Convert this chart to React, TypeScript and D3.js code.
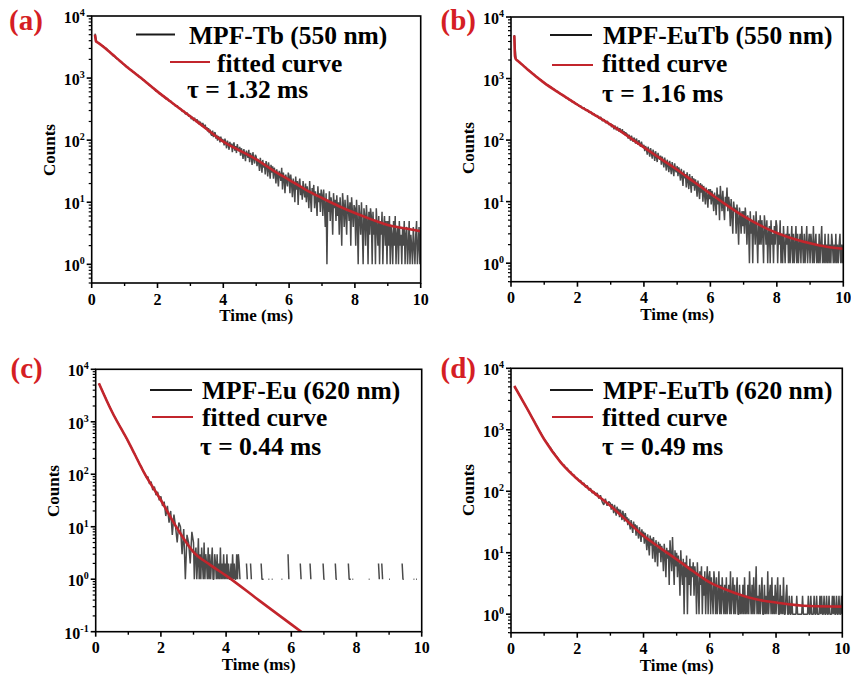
import React from 'react';
import * as d3 from 'd3';

const W = 851;
const H = 677;
const FONT = "'Liberation Serif', 'Times New Roman', Times, serif";
const FIT_RED = '#c2252c';
const LABEL_RED = '#d51e24';
const DATA_COLOR = '#4a4a4a';

// sampling grids of the measured decays (ms): coarse head, fine tail
const HEAD_T0 = 0.1;
const HEAD_DT = 0.05;
const TAIL_T0 = 3.0;
const TAIL_DT = 0.025;

const xMajor = [0, 2, 4, 6, 8, 10];
const xMinor = [1, 3, 5, 7, 9];

// ---------- (a) MPF-Tb 550 nm ----------
const headA = [
  5200, 3880, 3660, 3580, 3370, 3280, 3060, 2990, 2780, 2620,
  2460, 2280, 2230, 2060, 2010, 1860, 1820, 1690, 1650, 1520,
  1490, 1380, 1360, 1250, 1230, 1140, 1120, 1030, 1020, 935,
  925, 845, 830, 765, 750, 690, 680, 620, 615, 560,
  565, 515, 510, 465, 470, 425, 430, 390, 385, 352,
  360, 322, 325, 290, 298, 262, 275, 242,
];
const tailA = [
  250, 218, 236, 226, 204, 230, 212, 196, 218, 188, 206, 176, 198, 184, 168, 190, 172, 160, 178, 150,
  162, 138, 156, 130, 148, 124, 118, 142, 112, 128, 134, 106, 122, 98, 116, 110, 92, 114, 96, 104,
  100, 82, 106, 90, 74, 98, 86, 70, 94, 78, 88, 64, 84, 92, 68, 80, 62, 86, 72, 66,
  78, 56, 74, 64, 50, 72, 58, 46, 68, 60, 52, 70, 44, 62, 56, 40, 64, 50, 42, 58,
  54, 38, 50, 44, 32, 52, 40, 30, 48, 36, 42, 28, 46, 38, 26, 44, 34, 24, 40, 30,
  38, 24, 36, 30, 20, 34, 26, 18, 32, 28, 22, 36, 16, 30, 24, 14, 28, 22, 18, 30,
  26, 14, 28, 20, 12, 24, 18, 10, 26, 16, 22, 9, 20, 24, 13, 18, 11, 22, 15, 12,
  20, 10, 18, 14, 8, 22, 12, 7, 17, 13, 19, 8, 15, 11, 6, 18, 10, 14, 7, 16,
  13, 6, 16, 9, 4, 14, 1, 11, 7, 15, 5, 12, 9, 3, 14, 8, 11, 5, 13, 6,
  10, 3, 12, 7, 2, 14, 9, 4, 11, 6, 3, 13, 8, 5, 10, 2, 12, 7, 4, 9,
  8, 2, 11, 5, 1, 9, 6, 3, 10, 4, 1, 8, 6, 2, 9, 5, 1, 7, 3, 8,
  6, 1, 7, 3, 5, 1, 8, 4, 2, 6, 1, 5, 3, 7, 1, 4, 6, 2, 5, 1,
  5, 2, 6, 1, 4, 3, 1, 5, 2, 6, 1, 3, 4, 1, 5, 2, 3, 1, 4, 2,
  5, 1, 3, 4, 1, 2, 5, 1, 3, 2, 1, 4, 2, 1, 3, 5, 1, 2, 4, 1,
  3,
];
const fitAT = [0.1, 0.13, 0.2, 0.5, 1, 1.5, 2, 2.5, 3, 3.5, 4, 4.5, 5, 5.5, 6, 6.5, 7, 7.5, 8, 8.5, 9, 9.5, 10];
const fitAV = [5000, 3900, 3700, 2750, 1630, 1000, 605, 380, 240, 150, 95, 68, 49, 33, 23, 16, 11.7, 8.7, 6.7, 5.3, 4.3, 3.8, 3.4];

// ---------- (b) MPF-EuTb 550 nm ----------
const headB = [
  5100, 2070, 1930, 1870, 1730, 1680, 1560, 1520, 1390, 1350,
  1290, 1190, 1165, 1075, 1055, 970, 955, 880, 865, 800,
  795, 740, 732, 680, 672, 625, 620, 575, 568, 528,
  528, 485, 488, 448, 450, 412, 416, 382, 385, 352,
  360, 326, 336, 300, 312, 280, 290, 258, 270, 242,
  252, 222, 236, 204, 218, 190, 204, 176,
];
const tailB = [
  186, 162, 178, 170, 150, 172, 158, 144, 164, 150, 138, 156, 142, 132, 150, 126, 140, 120, 134, 124,
  126, 106, 122, 112, 98, 118, 104, 94, 110, 100, 88, 106, 92, 84, 100, 86, 78, 94, 82, 76,
  84, 66, 80, 72, 58, 78, 66, 54, 74, 62, 50, 70, 60, 46, 66, 54, 44, 62, 52, 48,
  56, 40, 54, 46, 36, 52, 42, 32, 48, 40, 30, 46, 36, 28, 44, 34, 26, 42, 32, 30,
  38, 26, 36, 30, 22, 34, 26, 18, 32, 24, 28, 17, 30, 22, 16, 28, 20, 14, 26, 18,
  24, 15, 23, 18, 12, 22, 16, 11, 20, 14, 19, 10, 18, 13, 9, 17, 12, 8, 16, 11,
  16, 9, 15, 11, 7, 14, 10, 6, 17, 9, 13, 5, 18, 11, 7, 15, 8, 5, 12, 9,
  17, 7, 12, 9, 4, 11, 6, 3, 10, 7, 8, 3, 9, 5, 2, 8, 6, 3, 7, 4,
  7, 3, 8, 5, 2, 6, 4, 1, 7, 3, 5, 1, 6, 4, 2, 7, 3, 1, 5, 2,
  6, 2, 5, 3, 1, 6, 4, 2, 5, 1, 3, 4, 1, 5, 2, 3, 1, 4, 2, 5,
  4, 1, 3, 2, 5, 1, 3, 1, 4, 2, 1, 3, 2, 4, 1, 3, 1, 2, 4, 1,
  3, 1, 2, 4, 1, 3, 1, 2, 3, 1, 4, 2, 1, 3, 1, 2, 4, 1, 2, 3,
  1, 3, 2, 1, 4, 1, 2, 3, 1, 2, 1, 3, 1, 2, 4, 1, 2, 1, 3, 1,
  2, 1, 3, 1, 2, 1, 3, 2, 1, 2, 1, 3, 1, 2, 1, 2, 3, 1, 2, 1,
  2,
];
const fitBT = [0.1, 0.12, 0.15, 0.2, 0.5, 1, 1.5, 2, 2.5, 3, 3.5, 4, 4.5, 5, 5.5, 6, 6.5, 7, 7.5, 8, 8.5, 9, 9.5, 10];
const fitBV = [5000, 2300, 2050, 1950, 1400, 850, 560, 375, 260, 178, 117, 76, 50, 33, 21, 13.5, 8.7, 5.8, 4.1, 3.1, 2.5, 2.1, 1.85, 1.72];

// ---------- (c) MPF-Eu 620 nm ----------
const headC = [
  5400, 4560, 3960, 3370, 2890, 2440, 2120, 1800, 1560, 1340,
  1200, 1040, 925, 795, 712, 610, 548, 470, 422, 358,
  320, 270, 243, 204, 183, 152, 140, 114, 106, 88,
  90, 66, 72, 50, 58, 40, 46, 32, 38, 25,
  30, 16, 25, 12, 20, 7, 17, 10, 5, 12,
  10, 3, 9, 1, 7, 5, 2, 8,
];
const tailC = [
  5, 1, 3, 4, 1, 2, 6, 1, 3, 1, 4, 2, 1, 5, 1, 3, 2, 1, 4, 1,
  3, 1, 2, 4, 1, 1, 3, 2, 1, 3, 1, 2, 1, 4, 1, 2, 1, 3, 1, 2,
  1, 3, 1, 2, 1, 1, 2, 1, 3, 1, 2, 1, 1, 3, 1, 3, 2, 1, 0, 1,
  0, 0, 0, 0, 0, 2, 1, 0, 0, 0, 2, 1, 0, 0, 0, 0, 0, 0, 0, 0,
  0, 0, 0, 2, 1, 1, 1, 0, 0, 0, 0, 0, 1, 1, 0, 0, 1, 1, 0, 0,
  0, 0, 0, 0, 0, 0, 0, 0, 1, 1, 0, 0, 0, 0, 0, 0, 3, 1, 0, 0,
  0, 0, 0, 0, 0, 0, 0, 0, 0, 0, 0, 2, 1, 0, 0, 0, 0, 0, 0, 0,
  0, 0, 0, 2, 1, 0, 0, 0, 0, 0, 0, 0, 0, 0, 0, 0, 0, 0, 0, 2,
  1, 1, 0, 0, 0, 0, 0, 0, 0, 0, 0, 0, 0, 0, 2, 1, 1, 0, 0, 0,
  0, 0, 0, 0, 0, 0, 0, 0, 0, 0, 2, 1, 1, 1, 0, 1, 1, 0, 0, 0,
  0, 0, 0, 0, 0, 0, 0, 0, 0, 0, 0, 0, 0, 0, 0, 1, 1, 0, 0, 0,
  0, 0, 0, 0, 0, 0, 0, 2, 1, 0, 0, 2, 1, 0, 0, 0, 0, 0, 0, 0,
  1, 1, 0, 0, 0, 0, 0, 0, 0, 0, 0, 0, 0, 0, 0, 0, 2, 1, 1, 0,
  0, 0, 0, 0, 0, 0, 0, 0, 0, 0, 1, 1, 0, 1, 1, 0, 0, 0, 0, 0,
  0,
];
const fitCT = [0.1, 0.5, 1, 1.5, 2, 2.5, 3, 3.5, 4, 5, 6, 6.5];
const fitCV = [5400, 1550, 420, 103, 32, 9.3, 3.3, 1.9, 1.17, 0.4, 0.138, 0.081];

// ---------- (d) MPF-EuTb 620 nm ----------
const headD = [
  5150, 4590, 4130, 3690, 3320, 2960, 2670, 2380, 2150, 1900,
  1720, 1530, 1385, 1220, 1110, 980, 890, 785, 712, 645,
  600, 540, 505, 452, 424, 380, 357, 318, 300, 272,
  268, 240, 236, 210, 208, 185, 184, 164, 163, 146,
  150, 130, 136, 116, 124, 104, 112, 94, 100, 86,
  94, 76, 86, 68, 60, 76, 58, 68,
];
const tailD = [
  64, 50, 62, 54, 44, 60, 48, 40, 56, 46, 52, 38, 50, 42, 34, 48, 40, 32, 44, 36,
  38, 28, 36, 30, 24, 34, 26, 21, 32, 25, 29, 19, 28, 22, 17, 26, 20, 15, 24, 18,
  22, 14, 21, 16, 11, 20, 14, 9, 19, 13, 17, 8, 18, 12, 7, 16, 11, 6, 15, 10,
  14, 7, 13, 10, 5, 14, 9, 4, 12, 8, 11, 3, 16, 9, 5, 18, 7, 3, 11, 6,
  10, 4, 9, 6, 2, 11, 5, 3, 8, 1, 7, 4, 9, 1, 6, 3, 8, 2, 6, 4,
  7, 2, 6, 4, 1, 7, 3, 1, 5, 3, 6, 1, 4, 2, 5, 1, 3, 6, 1, 4,
  5, 1, 4, 2, 1, 5, 3, 1, 4, 1, 2, 5, 1, 3, 1, 4, 2, 1, 3, 1,
  4, 1, 2, 3, 1, 5, 1, 2, 4, 1, 3, 1, 2, 4, 1, 1, 3, 1, 2, 1,
  3, 1, 4, 1, 2, 1, 3, 1, 5, 2, 1, 3, 1, 4, 1, 2, 6, 1, 2, 1,
  3, 1, 2, 4, 1, 1, 3, 1, 2, 1, 5, 1, 2, 3, 1, 4, 1, 2, 1, 3,
  1, 2, 4, 1, 1, 3, 1, 2, 1, 4, 1, 1, 2, 3, 1, 1, 2, 1, 1, 2,
  1, 1, 1, 1, 1, 2, 1, 1, 1, 1, 1, 1, 2, 1, 1, 1, 1, 1, 1, 2,
  1, 1, 2, 1, 1, 1, 2, 1, 1, 2, 1, 1, 1, 2, 1, 2, 1, 1, 2, 1,
  1, 2, 1, 1, 2, 1, 1, 1, 2, 1, 2, 1, 1, 2, 1, 1, 2, 1, 1, 2,
  1,
];
const fitDT = [0.1, 0.5, 1, 1.5, 2, 2.5, 3, 3.5, 4, 4.5, 5, 5.5, 6, 6.5, 7, 7.5, 8, 9, 10];
const fitDV = [5150, 2150, 700, 295, 158, 95, 58, 33, 18.8, 12, 7.8, 5, 3.3, 2.5, 2.0, 1.7, 1.55, 1.36, 1.33];

const panelLabels = ['(a)', '(b)', '(c)', '(d)'];
const seriesNames = ['MPF-Tb (550 nm)', 'MPF-EuTb (550 nm)', 'MPF-Eu (620 nm)', 'MPF-EuTb (620 nm)'];
const tauTexts = ['τ = 1.32 ms', 'τ = 1.16 ms', 'τ = 0.44 ms', 'τ = 0.49 ms'];

type Box = { l: number; r: number; t: number; b: number };
type Leg = { l1: number[]; t1: number[]; l2: number[]; t2: number[]; t3: number[] };

const panels = [
  {
    key: 'a', head: headA, tail: tailA, fitT: fitAT, fitV: fitAV, yDomain: [0.5, 1e4],
    box: { l: 91.7, r: 420.7, t: 16, b: 283 }, labelPos: [9, 29.5], countsY: 150,
    leg: { l1: [136, 175, 34.5], t1: [189, 44], l2: [170, 210, 62], t2: [217, 71.5], t3: [187, 98] },
  },
  {
    key: 'b', head: headB, tail: tailB, fitT: fitBT, fitV: fitBV, yDomain: [0.5, 1e4],
    box: { l: 511, r: 843.3, t: 17, b: 281.7 }, labelPos: [440.5, 29.5], countsY: 148,
    leg: { l1: [550, 592, 35], t1: [603, 43.5], l2: [552, 593, 65], t2: [602, 72], t3: [602, 102] },
  },
  {
    key: 'c', head: headC, tail: tailC, fitT: fitCT, fitV: fitCV, yDomain: [0.1, 1e4],
    box: { l: 95.7, r: 421.7, t: 369.3, b: 631.7 }, labelPos: [10.5, 378], countsY: 491,
    leg: { l1: [150, 192, 390], t1: [202, 398.5], l2: [152, 193, 417], t2: [202, 425.5], t3: [200, 455] },
  },
  {
    key: 'd', head: headD, tail: tailD, fitT: fitDT, fitV: fitDV, yDomain: [0.5, 1e4],
    box: { l: 511, r: 842.3, t: 368.3, b: 632.7 }, labelPos: [440.5, 378], countsY: 490,
    leg: { l1: [550, 593, 390], t1: [603, 398.5], l2: [552, 593, 417], t2: [602, 425.5], t3: [602, 455] },
  },
];

type Pt = { t: number; v: number };

function Panel({ p, idx }: { p: any; idx: number }) {
  const box: Box = p.box;
  const leg: Leg = p.leg;
  const x = d3.scaleLinear().domain([0, 10]).range([box.l, box.r]);
  const y = d3.scaleLog().domain(p.yDomain).range([box.b, box.t]);

  const pts: Pt[] = [
    ...p.head.map((v: number, i: number) => ({ t: HEAD_T0 + i * HEAD_DT, v })),
    ...p.tail.map((v: number, i: number) => ({ t: TAIL_T0 + i * TAIL_DT, v })),
  ];
  const dataLine = d3
    .line<Pt>()
    .defined((d) => d.v > 0)
    .x((d) => x(d.t))
    .y((d) => y(d.v));
  const fitPts: Pt[] = p.fitT.map((t: number, i: number) => ({ t, v: p.fitV[i] }));
  const fitLine = d3
    .line<Pt>()
    .x((d) => x(d.t))
    .y((d) => y(d.v))
    .curve(d3.curveMonotoneX);

  const [lo, hi] = p.yDomain as number[];
  const majors: number[] = [];
  const minors: number[] = [];
  for (let e = Math.floor(Math.log10(lo)) - 1; e <= Math.ceil(Math.log10(hi)); e++) {
    for (let k = 1; k <= 9; k++) {
      const v = k * Math.pow(10, e);
      if (v < lo * 0.999 || v > hi * 1.001) continue;
      (k === 1 ? majors : minors).push(v);
    }
  }
  const clipId = `clip-${p.key}`;
  const midX = (box.l + box.r) / 2;

  return (
    <g>
      <defs>
        <clipPath id={clipId}>
          <rect x={box.l} y={box.t} width={box.r - box.l} height={box.b - box.t} />
        </clipPath>
      </defs>
      <g clipPath={`url(#${clipId})`}>
        <path d={dataLine(pts) || ''} fill="none" stroke={DATA_COLOR} strokeWidth={1.5} strokeLinejoin="bevel" />
        <path d={fitLine(fitPts) || ''} fill="none" stroke={FIT_RED} strokeWidth={2.6} />
      </g>
      {/* frame */}
      <rect x={box.l} y={box.t} width={box.r - box.l} height={box.b - box.t} fill="none" stroke="#000" strokeWidth={1.6} />
      {/* x ticks */}
      {xMajor.map((t) => (
        <g key={`xm${t}`}>
          <line x1={x(t)} x2={x(t)} y1={box.b} y2={box.b + 5} stroke="#000" strokeWidth={1.6} />
          <text x={x(t)} y={box.b + 21.5} textAnchor="middle" fontSize={16} fontWeight="bold" fontFamily={FONT}>
            {t}
          </text>
        </g>
      ))}
      {xMinor.map((t) => (
        <line key={`xn${t}`} x1={x(t)} x2={x(t)} y1={box.b} y2={box.b + 3} stroke="#000" strokeWidth={1.4} />
      ))}
      {/* y ticks */}
      {majors.map((v) => {
        const ex = Math.round(Math.log10(v));
        return (
          <g key={`ym${v}`}>
            <line x1={box.l - 5} x2={box.l} y1={y(v)} y2={y(v)} stroke="#000" strokeWidth={1.6} />
            <text x={box.l - 7} y={y(v) + 7} textAnchor="end" fontSize={16} fontWeight="bold" fontFamily={FONT}>
              <tspan>10</tspan>
              <tspan dy={-7} fontSize={10}>{ex}</tspan>
            </text>
          </g>
        );
      })}
      {minors.map((v) => (
        <line key={`yn${v}`} x1={box.l - 3} x2={box.l} y1={y(v)} y2={y(v)} stroke="#000" strokeWidth={1.2} />
      ))}
      {/* axis titles */}
      <text x={midX} y={box.b + 38} textAnchor="middle" fontSize={17} fontWeight="bold" fontFamily={FONT}>
        Time (ms)
      </text>
      <text
        transform={`translate(${box.l - 37},${p.countsY}) rotate(-90)`}
        textAnchor="middle"
        fontSize={17}
        fontWeight="bold"
        fontFamily={FONT}
      >
        Counts
      </text>
      {/* panel label */}
      <text x={p.labelPos[0]} y={p.labelPos[1]} fontSize={29} fontWeight="bold" fontFamily={FONT} fill={LABEL_RED}>
        {panelLabels[idx]}
      </text>
      {/* legend */}
      <line x1={leg.l1[0]} x2={leg.l1[1]} y1={leg.l1[2]} y2={leg.l1[2]} stroke="#1a1a1a" strokeWidth={2} />
      <text x={leg.t1[0]} y={leg.t1[1]} fontSize={25.5} fontWeight="bold" fontFamily={FONT}>
        {seriesNames[idx]}
      </text>
      <line x1={leg.l2[0]} x2={leg.l2[1]} y1={leg.l2[2]} y2={leg.l2[2]} stroke={FIT_RED} strokeWidth={2} />
      <text x={leg.t2[0]} y={leg.t2[1]} fontSize={25.5} fontWeight="bold" fontFamily={FONT}>
        fitted curve
      </text>
      <text x={leg.t3[0]} y={leg.t3[1]} fontSize={25.5} fontWeight="bold" fontFamily={FONT}>
        {tauTexts[idx]}
      </text>
    </g>
  );
}

export default function App() {
  return (
    <svg
      width={W}
      height={H}
      viewBox={`0 0 ${W} ${H}`}
      style={{ position: 'absolute', left: 0, top: 0, background: '#fff' }}
    >
      <rect x={0} y={0} width={W} height={H} fill="#fff" />
      {panels.map((p, i) => (
        <Panel key={p.key} p={p} idx={i} />
      ))}
    </svg>
  );
}
